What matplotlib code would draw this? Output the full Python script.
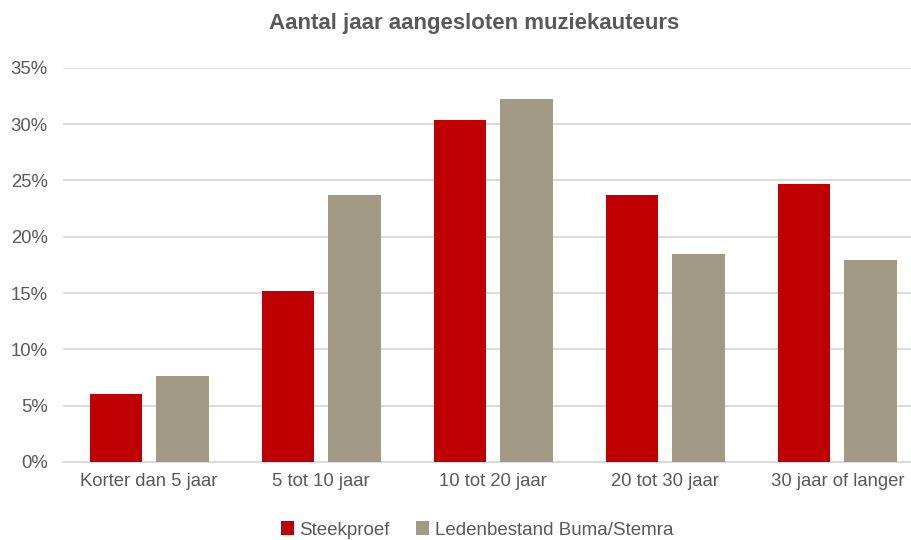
import numpy as np
import matplotlib.pyplot as plt

plt.rcParams['font.family'] = ['Liberation Sans', 'DejaVu Sans']

categories = ["Korter dan 5 jaar", "5 tot 10 jaar", "10 tot 20 jaar",
              "20 tot 30 jaar", "30 jaar of langer"]
steekproef = [0.060, 0.152, 0.304, 0.237, 0.247]
ledenbestand = [0.076, 0.237, 0.322, 0.185, 0.179]
yticks = [0, 0.05, 0.10, 0.15, 0.20, 0.25, 0.30, 0.35]
ytick_labels = ["0%", "5%", "10%", "15%", "20%", "25%", "30%", "35%"]

red = "#C00000"
grey = "#A39A86"
txt = "#595959"

fig = plt.figure(figsize=(9.12, 5.4), dpi=100)
ax = fig.add_axes([63 / 912, 1 - 462 / 540, 1 - 63 / 912, (462 - 67.7) / 540])

x = np.arange(len(categories))
w = 0.305
off = 0.193
ax.bar(x - off, steekproef, w, color=red, label="Steekproef", zorder=3)
ax.bar(x + off, ledenbestand, w, color=grey, label="Ledenbestand Buma/Stemra", zorder=3)

ax.set_xlim(-0.5, (912 - 149.5) / 172)
ax.set_ylim(0, 0.35)
ax.set_yticks(yticks)
ax.set_yticklabels(ytick_labels)
ax.set_xticks(x)
ax.set_xticklabels(categories)
ax.tick_params(axis="both", length=0, colors=txt, labelsize=13.3)
ax.tick_params(axis="y", pad=11)
ax.tick_params(axis="x", pad=8)
ax.grid(axis="y", color="#D9D9D9", linewidth=1.3, zorder=0)
for s in ["top", "right", "left"]:
    ax.spines[s].set_visible(False)
ax.spines["bottom"].set_color("#D9D9D9")
ax.spines["bottom"].set_linewidth(1.3)

fig.text(474 / 912, 1 - 23 / 540, "Aantal jaar aangesloten muziekauteurs", ha="center",
         va="center", fontsize=16, fontweight="bold", color=txt)

fig.legend(loc="center", bbox_to_anchor=(477 / 912, 1 - 530 / 540), ncol=2,
           frameon=False, fontsize=13.5, labelcolor=txt, handlelength=0.7,
           handleheight=0.7, handletextpad=0.3, columnspacing=1.4)

fig.savefig("out.png", dpi=100)
